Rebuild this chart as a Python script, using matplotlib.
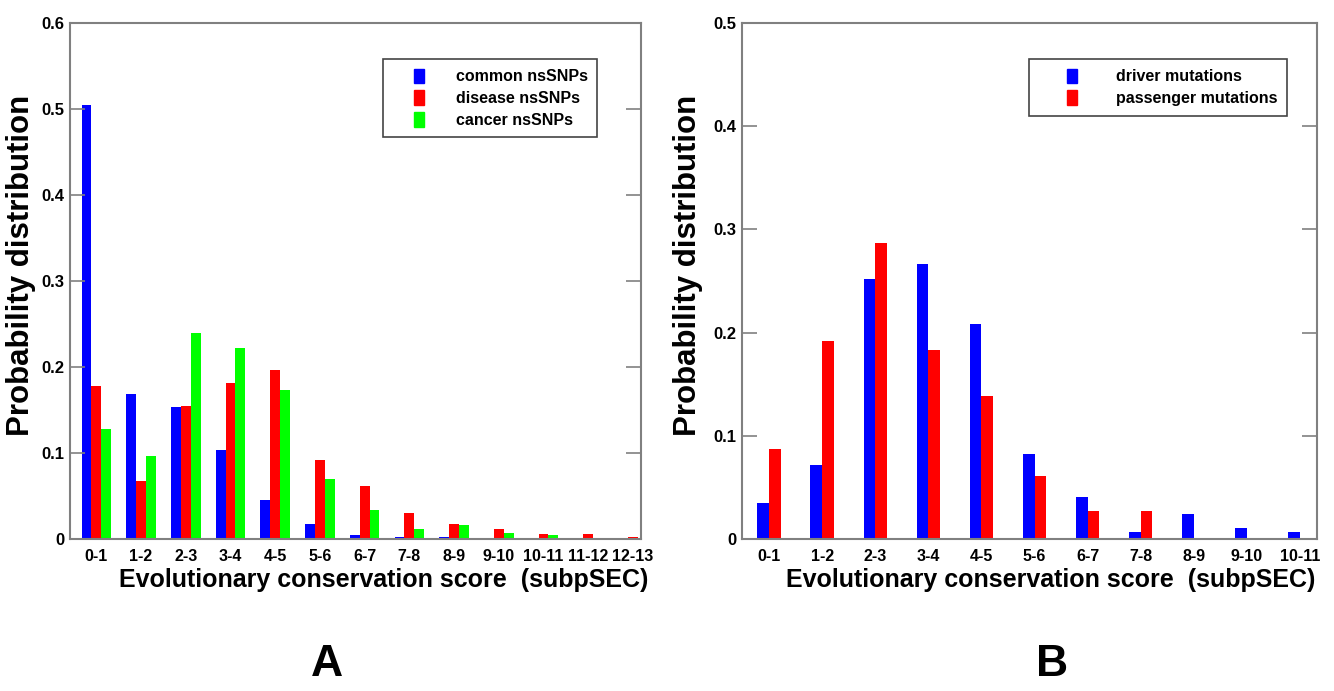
import matplotlib
matplotlib.use("Agg")
import matplotlib.pyplot as plt
from matplotlib.patches import Rectangle, Patch
from matplotlib.legend_handler import HandlerPatch
import numpy as np

plt.rcParams['font.family'] = ['Liberation Sans', 'DejaVu Sans']
plt.rcParams['font.weight'] = 'bold'

# Panel A data
labels_a = ['0-1', '1-2', '2-3', '3-4', '4-5', '5-6', '6-7', '7-8', '8-9',
            '9-10', '10-11', '11-12', '12-13']
common = [0.505, 0.169, 0.154, 0.104, 0.045, 0.017, 0.005, 0.002, 0.002,
          0.0, 0.0, 0.0015, 0.0]
disease = [0.178, 0.067, 0.155, 0.181, 0.197, 0.092, 0.062, 0.030, 0.018,
           0.0116, 0.0054, 0.0054, 0.0027]
cancer = [0.128, 0.097, 0.240, 0.222, 0.173, 0.070, 0.034, 0.012, 0.016,
          0.0073, 0.0046, 0.0, 0.0]

# Panel B data
labels_b = ['0-1', '1-2', '2-3', '3-4', '4-5', '5-6', '6-7', '7-8', '8-9',
            '9-10', '10-11']
driver = [0.0345, 0.072, 0.252, 0.266, 0.208, 0.082, 0.041, 0.007, 0.024,
          0.0106, 0.007]
passenger = [0.087, 0.192, 0.287, 0.183, 0.139, 0.061, 0.027, 0.027, 0.0,
             0.0, 0.0]

BLUE, RED, GREEN = '#0000FF', '#FF0000', '#00FF00'
SPINE = '#808080'

fig = plt.figure(figsize=(13.34, 6.91), dpi=100)
ax_a = fig.add_axes([70 / 1334, 152 / 691, 571 / 1334, 516 / 691])
ax_b = fig.add_axes([742 / 1334, 152 / 691, 575 / 1334, 516 / 691])


def style(ax, labels, ymax, xlim, xlab_x, ylab_x):
    ax.set_xlim(*xlim)
    ax.set_ylim(0, ymax)
    ax.set_xticks(np.arange(1, len(labels) + 1))
    ax.set_xticklabels(labels, fontsize=11.5, fontweight='bold')
    yt = np.arange(0, ymax + 0.001, 0.1)
    ax.set_yticks(yt)
    ax.set_yticklabels(['0'] + [f'{v:.1f}' for v in yt[1:]],
                       fontsize=12, fontweight='bold')
    ax.tick_params(axis='x', length=0, pad=7)
    ax.tick_params(axis='y', direction='in', length=11, width=1.2, color=SPINE,
                   right=True, pad=4)
    for s in ax.spines.values():
        s.set_color(SPINE)
        s.set_linewidth(1.5)
    ax.set_ylabel('Probability distribution', fontsize=22.5, fontweight='bold')
    ax.yaxis.set_label_coords(ylab_x, 0.53)
    ax.set_xlabel('Evolutionary conservation score  (subpSEC)', fontsize=18,
                  fontweight='bold', labelpad=3, x=xlab_x)


def narrow_patch(legend, orig_handle, xdescent, ydescent, width, height, fontsize):
    pw = 0.62 * fontsize
    ph = 0.92 * fontsize
    return Rectangle((width / 2 - pw / 2 - xdescent, height / 2 - ph / 2 - ydescent),
                     pw, ph)


# Panel A
x_a = np.arange(1, len(labels_a) + 1)
w = 0.22
ax_a.bar(x_a - w, common, w, color=BLUE)
ax_a.bar(x_a, disease, w, color=RED)
ax_a.bar(x_a + w, cancer, w, color=GREEN)
style(ax_a, labels_a, 0.6, (0.41, 13.18), 0.55, -0.06)

# Panel B
x_b = np.arange(1, len(labels_b) + 1)
wb = 0.22
ax_b.bar(x_b - wb / 2, driver, wb, color=BLUE)
ax_b.bar(x_b + wb / 2, passenger, wb, color=RED)
style(ax_b, labels_b, 0.5, (0.49, 11.32), 0.537, -0.068)

legends = [
    (ax_a, (0.548, 0.930), [BLUE, RED, GREEN],
     ['common nsSNPs', 'disease nsSNPs', 'cancer nsSNPs'], 3.35),
    (ax_b, (0.499, 0.930), [BLUE, RED],
     ['driver mutations', 'passenger mutations'], 4.25),
]
for ax, anchor, cols, names, hl in legends:
    handles = [Patch(color=c) for c in cols]
    leg = ax.legend(handles, names, loc='upper left', bbox_to_anchor=anchor,
                    handlelength=hl, handleheight=1.0, handletextpad=0.6,
                    borderpad=0.6, labelspacing=0.38, borderaxespad=0,
                    fancybox=False, edgecolor='#444444', framealpha=1,
                    prop={'weight': 'bold', 'size': 11.5},
                    handler_map={Patch: HandlerPatch(patch_func=narrow_patch)})
    leg.get_frame().set_linewidth(1.2)

fig.text(327 / 1334, 1 - 665 / 691, 'A', fontsize=32, fontweight='bold',
         ha='center', va='center')
fig.text(1052 / 1334, 1 - 665 / 691, 'B', fontsize=32, fontweight='bold',
         ha='center', va='center')

fig.savefig('out.png', dpi=100)
